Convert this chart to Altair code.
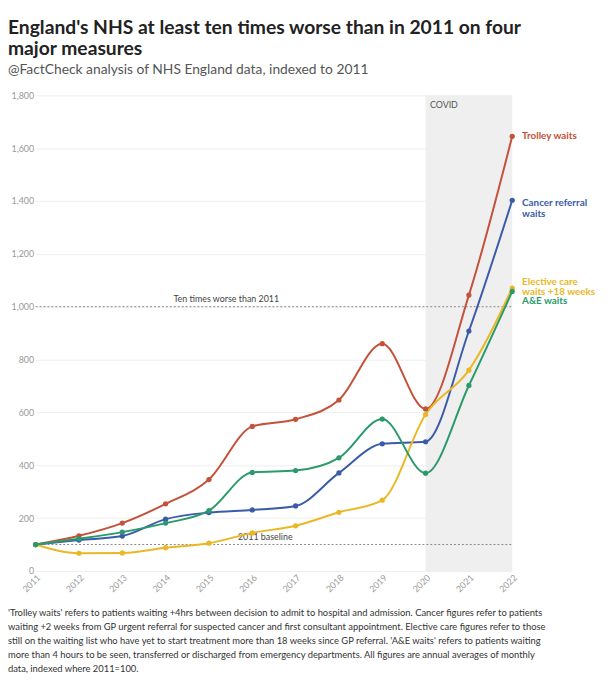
import pandas as pd
import altair as alt

years = list(range(2011, 2023))
trolley = [100, 133, 181, 254, 346, 547, 574, 647, 860, 613, 1044, 1645]
cancer = [100, 117, 132, 196, 221, 231, 246, 371, 481, 489, 908, 1403]
ae = [100, 122, 147, 181, 228, 373, 380, 428, 575, 370, 702, 1058]
elective = [100, 67, 68, 88, 105, 144, 171, 222, 268, 592, 760, 1070]

series = ["Trolley waits", "Cancer referral waits", "Elective care waits +18 weeks", "A&E waits"]
colors = ["#c4513a", "#3a5ca8", "#e9b824", "#2a9a6c"]

rows = []
for name, vals in zip(series, [trolley, cancer, elective, ae]):
    for y, v in zip(years, vals):
        rows.append({"year": y, "value": v, "series": name})
df = pd.DataFrame(rows)

end_labels = pd.DataFrame({
    "year": [2022, 2022, 2022, 2022],
    "value": [1645, 1393, 1095, 1020],
    "label": [["Trolley waits"], ["Cancer referral", "waits"],
              ["Elective care", "waits +18 weeks"], ["A&E waits"]],
    "series": series,
})

footnote = [
    "'Trolley waits' refers to patients waiting +4hrs between decision to admit to hospital and admission. Cancer figures refer to patients",
    "waiting +2 weeks from GP urgent referral for suspected cancer and first consultant appointment. Elective care figures refer to those",
    "still on the waiting list who have yet to start treatment more than 18 weeks since GP referral. 'A&E waits' refers to patients waiting",
    "more than 4 hours to be seen, transferred or discharged from emergency departments. All figures are annual averages of monthly",
    "data, indexed where 2011=100.",
]

FONT = "Lato"
xs = alt.Scale(domain=[2011, 2022], nice=False)
ys = alt.Scale(domain=[0, 1800], nice=False)
x = alt.X("year:Q", scale=xs,
          axis=alt.Axis(values=years, format="d", labelAngle=-45, labelColor="#999",
                        labelFontSize=9, grid=False, domain=False, ticks=False, title=None,
                        labelAlign="right", labelBaseline="top"))
y = alt.Y("value:Q", scale=ys,
          axis=alt.Axis(values=list(range(0, 1801, 200)), labelColor="#999", labelFontSize=9,
                        gridColor="#eee", domain=False, ticks=False, title=None))
cscale = alt.Scale(domain=series, range=colors)
col = alt.Color("series:N", scale=cscale, legend=None)

base = alt.Chart(df)
lines = base.mark_line(interpolate="monotone", strokeWidth=2).encode(x=x, y=y, color=col)

covid = alt.Chart(pd.DataFrame({"year": [2020], "b": [2022]})).mark_rect(
    color="#efefef").encode(x=alt.X("year:Q", scale=xs), x2="b:Q",
                            y=alt.value(0), y2=alt.value(482))
covid_txt = alt.Chart(pd.DataFrame({"year": [2020.1], "t": ["COVID"]})).mark_text(
    align="left", fontSize=9, color="#555", font=FONT).encode(
    x=alt.X("year:Q", scale=xs), y=alt.value(10), text="t:N")

ref_lines = alt.Chart(pd.DataFrame({"value": [1000, 100]})).mark_rule(
    strokeDash=[2, 2], color="#888").encode(
    x=alt.value(0), x2=alt.value(483), y=alt.Y("value:Q", scale=ys))
ref_txt = alt.Chart(pd.DataFrame({"year": [2015.4, 2016.3], "value": [1000, 100],
                                  "t": ["Ten times worse than 2011", "2011 baseline"]})).mark_text(
    fontSize=9, color="#444", dy=-8, font=FONT).encode(
    x=alt.X("year:Q", scale=xs), y=alt.Y("value:Q", scale=ys), text="t:N")

pts = base.mark_circle(size=28, opacity=1).encode(
    x=alt.X("year:Q", scale=xs), y=alt.Y("value:Q", scale=ys), color=col)
labels = alt.Chart(end_labels).mark_text(align="left", dx=10, fontSize=10, fontWeight="bold",
                                         font=FONT, lineHeight=11).encode(
    x=alt.X("year:Q", scale=xs), y=alt.Y("value:Q", scale=ys), text="label", color=col)

foot_layers = []
for i, line in enumerate(footnote):
    foot_layers.append(alt.Chart(pd.DataFrame({"t": [line]})).mark_text(
        align="left", baseline="middle", fontSize=9.5, color="#333", font=FONT).encode(
        x=alt.value(-28), y=alt.value(525 + 14 * i), text="t:N"))

chart = alt.layer(covid, covid_txt, ref_lines, ref_txt, lines, pts, labels, *foot_layers).properties(
    width=483, height=482,
    autosize=alt.AutoSizeParams(type="none"),
    padding={"left": 28, "top": 84, "right": 92, "bottom": 106},
    title=alt.Title(["England's NHS at least ten times worse than in 2011 on four", "major measures"],
                    subtitle="@FactCheck analysis of NHS England data, indexed to 2011",
                    anchor="start", fontSize=19.5, font=FONT, color="#222",
                    subtitleFont=FONT, subtitleFontSize=14, subtitleColor="#555", offset=14),
).configure_view(stroke=None).configure_axis(labelFont=FONT)

chart.save("out.html", embed_options={"renderer": "svg", "actions": False})
